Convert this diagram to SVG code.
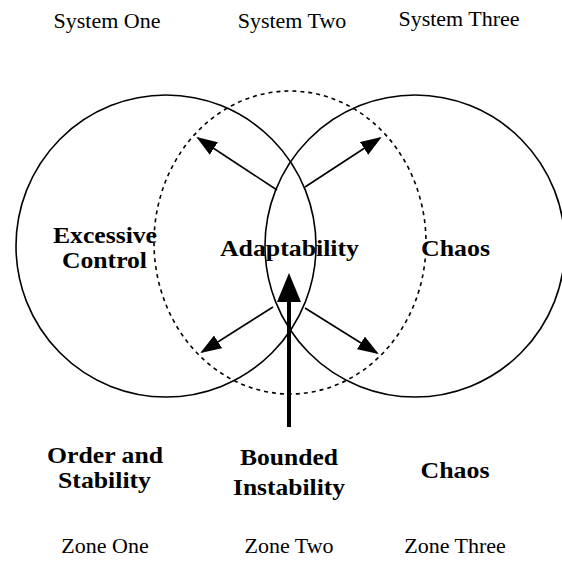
<svg xmlns="http://www.w3.org/2000/svg" width="562" height="563" viewBox="0 0 562 563">
<style>
.reg{font-family:"Liberation Serif","Times New Roman",serif;font-size:22px;fill:#000;text-anchor:middle}
.bold{font-family:"Liberation Serif","Times New Roman",serif;font-size:23.5px;font-weight:bold;fill:#000;text-anchor:middle}
.solid{fill:none;stroke:#000;stroke-width:1.6}
.dash{fill:none;stroke:#000;stroke-width:1.6;stroke-dasharray:4 4}
.thin{stroke:#000;stroke-width:1.6;fill:none}
</style>
<defs>
<marker id="ah" markerUnits="userSpaceOnUse" markerWidth="22" markerHeight="16" viewBox="0 0 22 16" refX="19" refY="7.5" orient="auto">
<path d="M0,0 L21,7.5 L0,15 z" fill="#000"/>
</marker>
</defs>
<rect width="562" height="563" fill="#fff"/>
<g id="system-one"><ellipse class="solid" cx="166" cy="246" rx="150" ry="151"/></g>
<g id="system-three"><ellipse class="solid" cx="415" cy="246" rx="150" ry="151"/></g>
<g id="system-two"><ellipse class="dash" cx="290" cy="242.5" rx="136" ry="151.5"/></g>
<g id="connectors">
<line class="thin" x1="277" y1="190" x2="198" y2="138" marker-end="url(#ah)"/>
<line class="thin" x1="305" y1="187" x2="380" y2="138" marker-end="url(#ah)"/>
<line class="thin" x1="273" y1="307" x2="202" y2="352" marker-end="url(#ah)"/>
<line class="thin" x1="305" y1="308" x2="377" y2="353" marker-end="url(#ah)"/>
<line x1="289" y1="427" x2="289" y2="298" stroke="#000" stroke-width="4"/>
<polygon points="289,273 301,302 277,302" fill="#000"/>
</g>
<g id="labels-top">
<text class="reg" x="107" y="28">System One</text>
<text class="reg" x="292" y="28">System Two</text>
<text class="reg" x="459" y="26">System Three</text>
</g>
<g id="labels-middle">
<text class="bold" x="105" y="243" textLength="104" lengthAdjust="spacingAndGlyphs">Excessive</text>
<text class="bold" x="104.5" y="268" textLength="85" lengthAdjust="spacingAndGlyphs">Control</text>
<text class="bold" x="289.5" y="256" textLength="139" lengthAdjust="spacingAndGlyphs">Adaptability</text>
<text class="bold" x="455.5" y="256" textLength="69" lengthAdjust="spacingAndGlyphs">Chaos</text>
</g>
<g id="labels-zones">
<text class="bold" x="105" y="463" textLength="116" lengthAdjust="spacingAndGlyphs">Order and</text>
<text class="bold" x="104.5" y="488" textLength="93" lengthAdjust="spacingAndGlyphs">Stability</text>
<text class="bold" x="289" y="465" textLength="98" lengthAdjust="spacingAndGlyphs">Bounded</text>
<text class="bold" x="289" y="495" textLength="112" lengthAdjust="spacingAndGlyphs">Instability</text>
<text class="bold" x="455" y="478" textLength="69" lengthAdjust="spacingAndGlyphs">Chaos</text>
<text class="reg" x="105" y="553">Zone One</text>
<text class="reg" x="289" y="553">Zone Two</text>
<text class="reg" x="455" y="553">Zone Three</text>
</g>
</svg>
